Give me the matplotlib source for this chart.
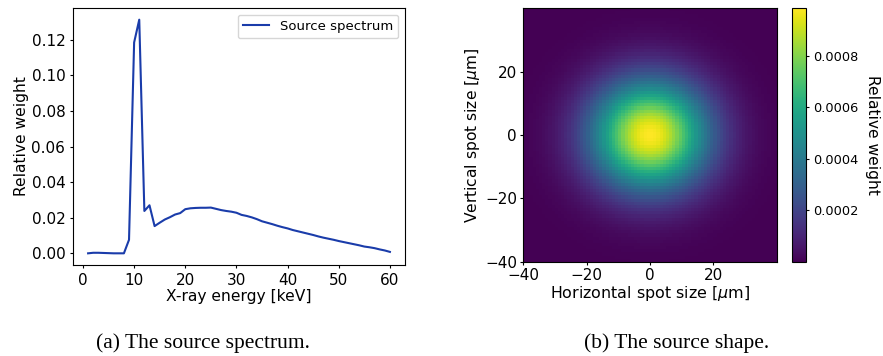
import numpy as np
import matplotlib
matplotlib.use("Agg")
import matplotlib.pyplot as plt

# source spectrum, 1..60 keV in 1 keV steps
energy_kev = np.arange(1, 61)
spectrum = [
    0.0000, 0.0003, 0.0003, 0.0002, 0.0001, 0.0000, 0.0000, 0.0000, 0.0076, 0.1185,
    0.1313, 0.0238, 0.0270, 0.0153, 0.0172, 0.0190, 0.0203, 0.0218, 0.0226, 0.0248,
    0.0253, 0.0255, 0.0256, 0.0256, 0.0257, 0.0250, 0.0243, 0.0238, 0.0234, 0.0228,
    0.0216, 0.0210, 0.0202, 0.0192, 0.0180, 0.0172, 0.0164, 0.0155, 0.0147, 0.0140,
    0.0131, 0.0124, 0.0117, 0.0110, 0.0103, 0.0095, 0.0088, 0.0082, 0.0076, 0.0069,
    0.0063, 0.0057, 0.0051, 0.0045, 0.0038, 0.0034, 0.0029, 0.0022, 0.0016, 0.0008,
]

# source shape: gaussian spot on a 1 um grid
spot_peak = 0.000985
sigma_x = 12.8
sigma_y = 12.0
grid_um = np.arange(-40, 40) + 0.5

fig = plt.figure(figsize=(8.83, 3.56), dpi=100)
W, H = 883, 356

def box(x0, y0, x1, y1):
    return [x0 / W, 1 - y1 / H, (x1 - x0) / W, (y1 - y0) / H]

ax1 = fig.add_axes(box(73, 8, 405, 265))
ax1.plot(energy_kev, spectrum, color="#1a3caa", lw=1.5, label="Source spectrum")
ax1.set_xlabel("X-ray energy [keV]", fontsize=11.2, labelpad=1)
ax1.set_ylabel("Relative weight", fontsize=11.2, labelpad=1.5)
ax1.tick_params(labelsize=11, length=2.5, pad=3)
ax1.set_yticks([0.0, 0.02, 0.04, 0.06, 0.08, 0.10, 0.12])
ax1.legend(loc="upper right", fontsize=9.5)

gx, gy = np.meshgrid(grid_um, grid_um)
shape = spot_peak * np.exp(-gx**2 / (2 * sigma_x**2) - gy**2 / (2 * sigma_y**2))

ax2 = fig.add_axes(box(523.3, 8.3, 776.7, 261.7))
im = ax2.imshow(shape, cmap="viridis", origin="lower", extent=[-40, 40, -40, 40],
                interpolation="nearest", aspect="auto")
ax2.set_xticks([-40, -20, 0, 20])
ax2.set_yticks([-40, -20, 0, 20])
ax2.tick_params(labelsize=11, length=2.5, pad=2)
ax2.set_xlabel(r"Horizontal spot size [$\mu$m]", fontsize=11.4, labelpad=1)
ax2.set_ylabel(r"Vertical spot size [$\mu$m]", fontsize=11.2, labelpad=2)

cax = fig.add_axes(box(792.3, 8.3, 805.7, 262))
cb = fig.colorbar(im, cax=cax)
cb.set_ticks([0.0002, 0.0004, 0.0006, 0.0008])
cb.ax.tick_params(labelsize=9.3, length=2.5, pad=3)
cb.set_label("Relative weight", rotation=270, fontsize=11.2, labelpad=15.5)

fig.text(203 / W, 1 - 343 / H, "(a) The source spectrum.", ha="center", va="center",
         fontsize=15.5, family="Liberation Serif")
fig.text(677 / W, 1 - 343 / H, "(b) The source shape.", ha="center", va="center",
         fontsize=15.5, family="Liberation Serif")

fig.savefig("out.png", dpi=100)
